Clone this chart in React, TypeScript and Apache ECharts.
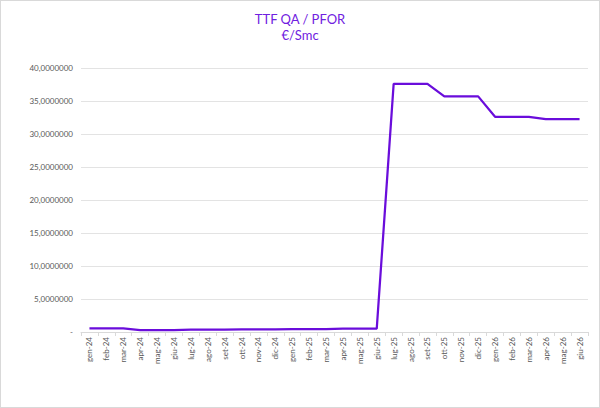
import React, { useEffect, useRef } from "react";
import * as echarts from "echarts";

const titleLines = ["TTF QA / PFOR", "€/Smc"];
const categories = [
  "gen-24", "feb-24", "mar-24", "apr-24", "mag-24", "giu-24", "lug-24", "ago-24", "set-24", "ott-24",
  "nov-24", "dic-24", "gen-25", "feb-25", "mar-25", "apr-25", "mag-25", "giu-25", "lug-25", "ago-25",
  "set-25", "ott-25", "nov-25", "dic-25", "gen-26", "feb-26", "mar-26", "apr-26", "mag-26", "giu-26",
];
const values = [
  0.55, 0.55, 0.55, 0.3, 0.3, 0.3, 0.35, 0.35, 0.35, 0.4,
  0.4, 0.4, 0.45, 0.45, 0.45, 0.5, 0.5, 0.5, 37.6, 37.6,
  37.6, 35.7, 35.7, 35.7, 32.6, 32.6, 32.6, 32.25, 32.25, 32.25,
];
const yMin = 0;
const yMax = 40;
const yStep = 5;

export default function App() {
  const ref = useRef<HTMLDivElement>(null);
  useEffect(() => {
    document.body.style.margin = "0";
    const chart = echarts.init(ref.current!, null, { renderer: "svg" });
    const font = "Lato, 'Noto Sans', sans-serif";
    chart.setOption({
      animation: false,
      backgroundColor: "#ffffff",
      title: {
        text: titleLines.join("\n"),
        left: "center",
        top: 6,
        textStyle: {
          color: "#7020E0",
          fontSize: 13,
          fontWeight: "normal",
          fontFamily: font,
          lineHeight: 16,
        },
      },
      grid: { left: 81, right: 12, top: 68, bottom: 76, containLabel: false },
      xAxis: {
        type: "category",
        data: categories,
        boundaryGap: true,
        axisLine: { lineStyle: { color: "#d9d9d9" } },
        axisTick: { show: true, alignWithLabel: false, length: 4, lineStyle: { color: "#d9d9d9" } },
        axisLabel: {
          rotate: 90,
          interval: 0,
          color: "#595959",
          fontSize: 8,
          fontFamily: font,
          margin: 5,
        },
      },
      yAxis: {
        type: "value",
        min: yMin,
        max: yMax,
        interval: yStep,
        axisLine: { show: false },
        axisTick: { show: false },
        splitLine: { lineStyle: { color: "#e3e3e3" } },
        axisLabel: {
          color: "#595959",
          fontSize: 8,
          fontFamily: font,
          margin: 8,
          formatter: (v: number) => (v === 0 ? "-" : v.toFixed(7).replace(".", ",")),
        },
      },
      series: [
        {
          type: "line",
          data: values,
          symbol: "none",
          lineStyle: { color: "#6A0DDB", width: 2.25 },
          itemStyle: { color: "#6A0DDB" },
        },
      ],
    });
    return () => chart.dispose();
  }, []);
  return (
    <div
      style={{
        position: "absolute",
        left: 0,
        top: 0,
        width: 600,
        height: 408,
        boxSizing: "border-box",
        border: "1px solid #d9d9d9",
        overflow: "hidden",
      }}
    >
      <div ref={ref} style={{ position: "absolute", left: -1, top: -1, width: 600, height: 408 }} />
    </div>
  );
}
